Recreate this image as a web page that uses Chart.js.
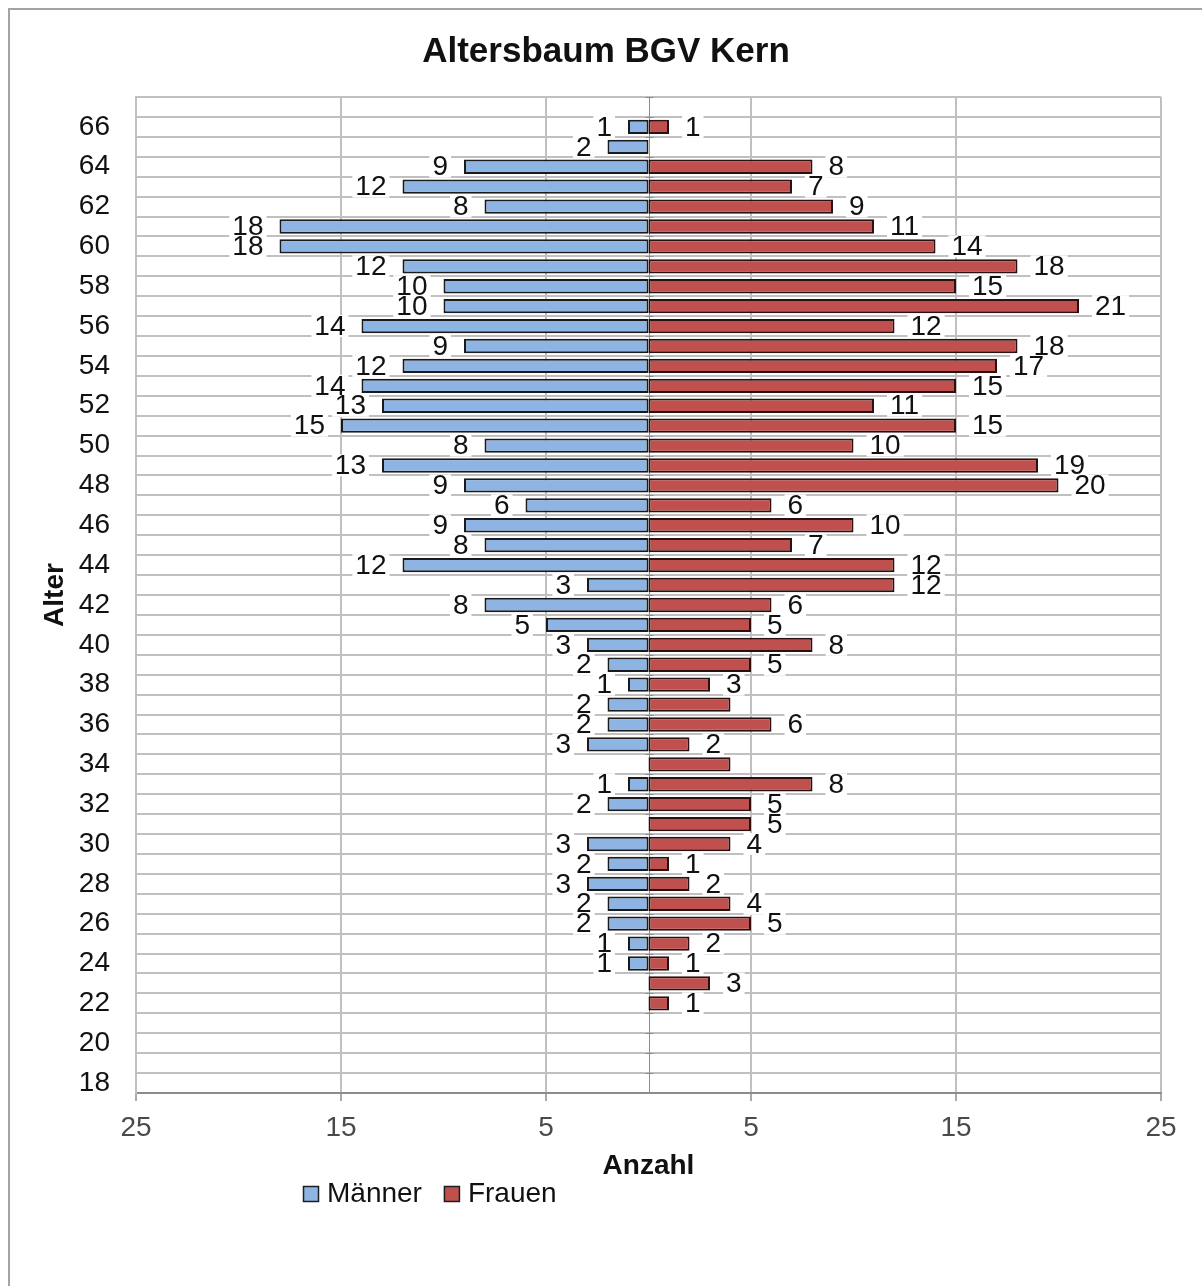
<!DOCTYPE html>
<html>
<head>
<meta charset="utf-8">
<title>Altersbaum BGV Kern</title>
<script src="https://cdn.jsdelivr.net/npm/chart.js@4/dist/chart.umd.min.js"></script>
<style>
  html, body { margin: 0; padding: 0; background: #ffffff; overflow: hidden; }
  #wrap { position: relative; width: 1202px; height: 1286px; }
  canvas { display: block; }
</style>
</head>
<body>
<div id="wrap"><canvas id="chart" width="1202" height="1286"></canvas></div>
<script>
// Ages from top (67) to bottom (18)
const alter = [67, 66, 65, 64, 63, 62, 61, 60, 59, 58,
               57, 56, 55, 54, 53, 52, 51, 50, 49, 48,
               47, 46, 45, 44, 43, 42, 41, 40, 39, 38,
               37, 36, 35, 34, 33, 32, 31, 30, 29, 28,
               27, 26, 25, 24, 23, 22, 21, 20, 19, 18];

// Headcount per age
const maenner = [0, 1, 2, 9, 12, 8, 18, 18, 12, 10,
                 10, 14, 9, 12, 14, 13, 15, 8, 13, 9,
                 6, 9, 8, 12, 3, 8, 5, 3, 2, 1,
                 2, 2, 3, 0, 1, 2, 0, 3, 2, 3,
                 2, 2, 1, 1, 0, 0, 0, 0, 0, 0];

const frauen = [0, 1, 0, 8, 7, 9, 11, 14, 18, 15,
                21, 12, 18, 17, 15, 11, 15, 10, 19, 20,
                6, 10, 7, 12, 12, 6, 5, 8, 5, 3,
                4, 6, 2, 4, 8, 5, 5, 4, 1, 2,
                4, 5, 2, 1, 3, 1, 0, 0, 0, 0];

// Ages whose women's bar carries no value label
const frauenOhneBeschriftung = [37, 34];

// Count axis ticks (men to the left of zero)
const anzahlTicks = [-25, -15, -5, 5, 15, 25];

const FONT = '"Liberation Sans", Arial, Helvetica, sans-serif';

// Frame lines, white label backdrops, zero line, value labels, title and legend
const backdropPlugin = {
  id: 'backdrop',
  beforeDraw(chart) {
    const ctx = chart.ctx;
    ctx.save();
    ctx.fillStyle = '#ffffff';
    ctx.fillRect(0, 0, chart.width, chart.height);
    ctx.strokeStyle = '#a3a3a3';
    ctx.lineWidth = 2;
    ctx.beginPath();
    ctx.moveTo(9, chart.height);
    ctx.lineTo(9, 9);
    ctx.lineTo(chart.width, 9);
    ctx.stroke();
    ctx.restore();
  },
  beforeDatasetsDraw(chart) {
    const ctx = chart.ctx;
    const xs = chart.scales.x;
    const area = chart.chartArea;
    ctx.save();
    ctx.font = '28px ' + FONT;
    ctx.fillStyle = '#ffffff';
    eachLabel(chart, (txt, x, y, align) => {
      const w = ctx.measureText(txt).width;
      const left = align === 'right' ? x - w : x;
      ctx.fillRect(left - 3, y - 11, w + 6, 22);
    });
    // vertical axis at zero
    const x0 = Math.round(xs.getPixelForValue(0)) + 0.5;
    ctx.strokeStyle = '#8c8c8c';
    ctx.lineWidth = 1;
    ctx.beginPath();
    ctx.moveTo(x0, area.top);
    ctx.lineTo(x0, area.bottom);
    const step = (area.bottom - area.top) / alter.length;
    for (let i = 0; i <= alter.length; i++) {
      const y = Math.round(area.top + i * step) + 0.5;
      ctx.moveTo(x0 - 4, y);
      ctx.lineTo(x0 + 4, y);
    }
    ctx.stroke();
    ctx.restore();
  },
  afterDatasetsDraw(chart) {
    const ctx = chart.ctx;
    ctx.save();
    ctx.font = '28px ' + FONT;
    ctx.fillStyle = '#111111';
    ctx.textBaseline = 'middle';
    eachLabel(chart, (txt, x, y, align) => {
      ctx.textAlign = align;
      ctx.fillText(txt, x, y + 1);
    });
    ctx.restore();
  },
  afterDraw(chart) {
    const ctx = chart.ctx;
    ctx.save();
    // chart title
    ctx.font = 'bold 35px ' + FONT;
    ctx.fillStyle = '#111111';
    ctx.textAlign = 'center';
    ctx.textBaseline = 'alphabetic';
    ctx.fillText('Altersbaum BGV Kern', 606, 62);
    ctx.restore();

    // legend
    ctx.save();
    ctx.font = '28px ' + FONT;
    ctx.textBaseline = 'middle';
    ctx.textAlign = 'left';
    let x = 303;
    const y = 1194;
    chart.data.datasets.forEach((ds) => {
      ctx.fillStyle = ds.backgroundColor;
      ctx.fillRect(x, y - 8, 16, 16);
      ctx.strokeStyle = '#1e1e1e';
      ctx.lineWidth = 1.5;
      ctx.strokeRect(x + 0.5, y - 7.5, 15, 15);
      ctx.fillStyle = '#111111';
      ctx.fillText(ds.label, x + 24, y);
      x += 24 + ctx.measureText(ds.label).width + 22;
    });
    ctx.restore();
  }
};

function eachLabel(chart, fn) {
  chart.data.datasets.forEach((ds, di) => {
    const meta = chart.getDatasetMeta(di);
    meta.data.forEach((bar, i) => {
      const v = Math.abs(ds.data[i]);
      if (!v) return;
      if (di === 1 && frauenOhneBeschriftung.includes(alter[i])) return;
      if (di === 0) fn(String(v), bar.x - 16, bar.y, 'right');
      else fn(String(v), bar.x + 16, bar.y, 'left');
    });
  });
}

new Chart(document.getElementById('chart'), {
  type: 'bar',
  data: {
    labels: alter,
    datasets: [
      {
        label: 'Männer',
        data: maenner.map(v => -v),
        backgroundColor: '#8eb4e3',
        borderColor: '#1a1a1a',
        borderWidth: 2,
        borderSkipped: false
      },
      {
        label: 'Frauen',
        data: frauen,
        backgroundColor: '#c0504d',
        borderColor: '#2a1010',
        borderWidth: 2,
        borderSkipped: false
      }
    ]
  },
  options: {
    indexAxis: 'y',
    responsive: false,
    animation: false,
    layout: { padding: { left: 10, top: 97, right: 41, bottom: 0 } },
    categoryPercentage: 0.72,
    barPercentage: 1.0,
    plugins: {
      legend: { display: false },
      title: { display: false },
      tooltip: { enabled: false }
    },
    scales: {
      x: {
        type: 'linear',
        stacked: true,
        min: -25,
        max: 25,
        afterBuildTicks(scale) {
          scale.ticks = anzahlTicks.map(v => ({ value: v }));
        },
        afterFit(scale) { scale.height = 193; },
        grid: {
          color: '#c0c0c0',
          lineWidth: 2,
          drawTicks: true,
          tickLength: 8,
          tickColor: '#8c8c8c',
          tickWidth: 1.5
        },
        border: { display: true, color: '#8c8c8c', width: 2 },
        ticks: {
          padding: 10,
          color: '#4a4a4a',
          font: { family: FONT, size: 28 },
          callback: (v) => String(Math.abs(v))
        },
        title: {
          display: true,
          text: 'Anzahl',
          color: '#111111',
          font: { family: FONT, size: 28, weight: 'bold' },
          padding: { top: 0, bottom: 103 }
        }
      },
      y: {
        type: 'category',
        stacked: true,
        offset: true,
        afterFit(scale) { scale.width = 126; },
        grid: {
          offset: true,
          color: '#c0c0c0',
          lineWidth: 2,
          drawTicks: false
        },
        border: { display: true, color: '#c0c0c0', width: 2 },
        ticks: {
          autoSkip: false,
          padding: 26,
          color: '#111111',
          font: { family: FONT, size: 28 },
          callback(value) {
            const age = this.getLabelForValue(value);
            return Number(age) % 2 === 0 ? String(age) : '';
          }
        },
        title: {
          display: true,
          text: 'Alter',
          color: '#111111',
          font: { family: FONT, size: 28, weight: 'bold' },
          padding: { top: 28, bottom: 0 }
        }
      }
    }
  },
  plugins: [backdropPlugin]
});
</script>
</body>
</html>
